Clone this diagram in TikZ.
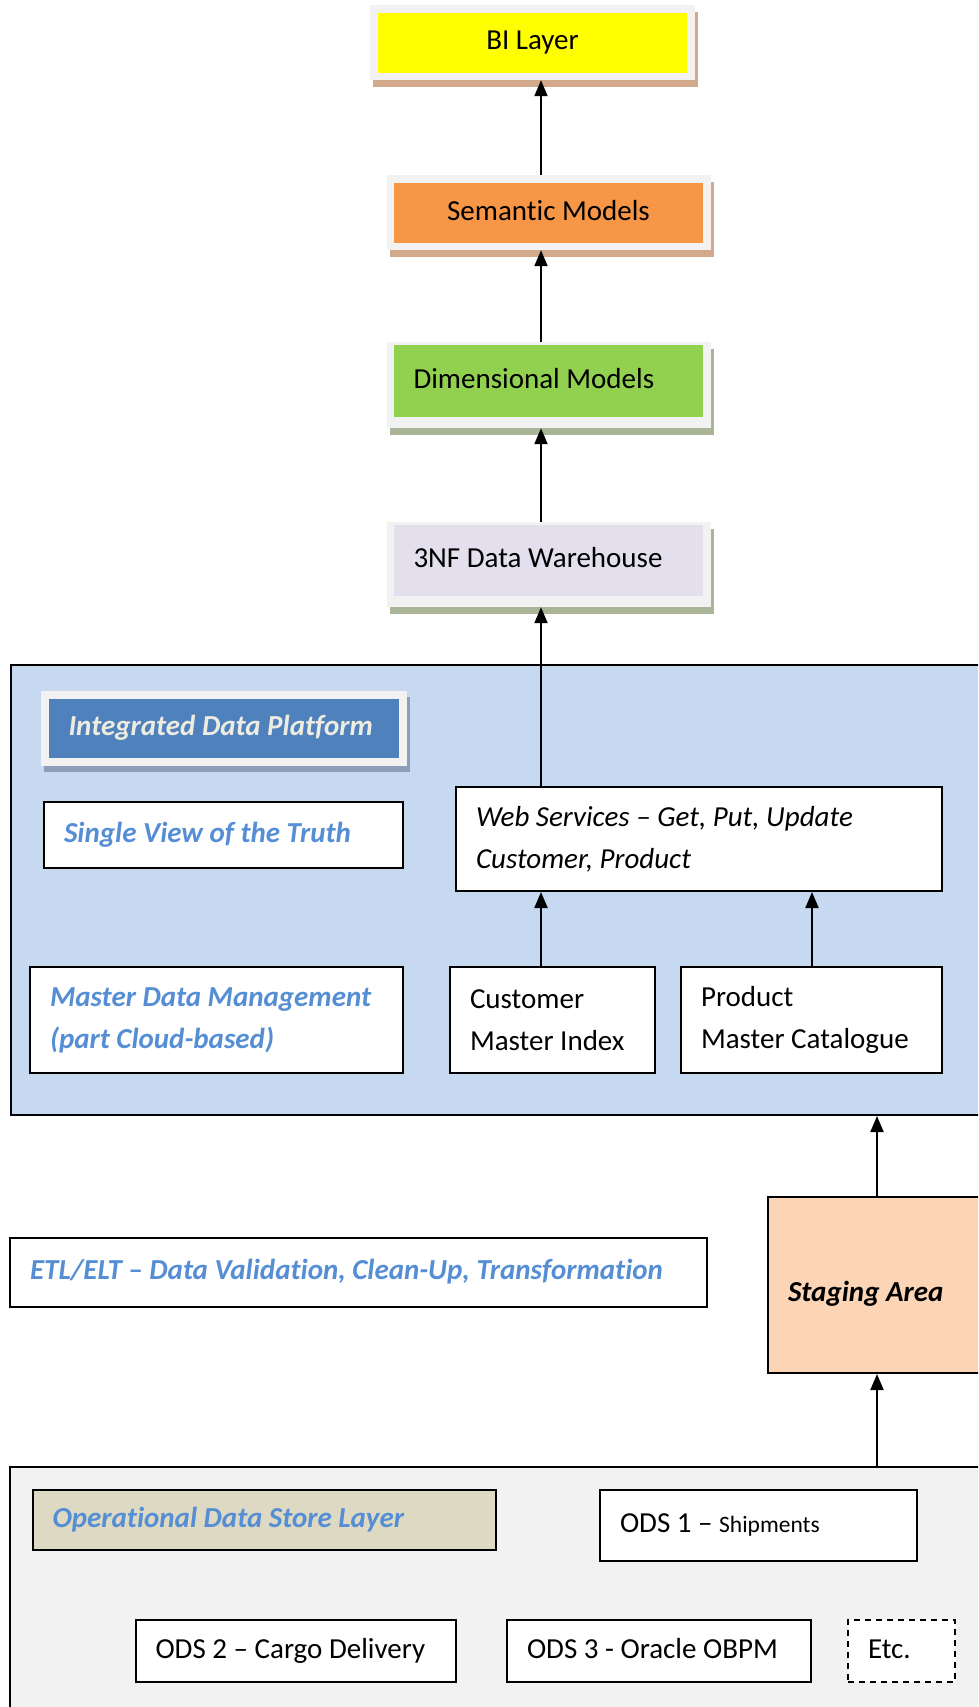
\documentclass[tikz,border=0pt]{standalone}
\usepackage{fontspec}
\setmainfont{Carlito}[Ligatures=NoCommon]
\usetikzlibrary{arrows.meta,shadows}
\definecolor{biyellow}{HTML}{FFFF00}
\definecolor{semorange}{HTML}{F79646}
\definecolor{dimgreen}{HTML}{92D050}
\definecolor{nflav}{HTML}{E4DFEC}
\definecolor{framegray}{HTML}{F2F2F2}
\definecolor{shbrown}{HTML}{D2A98A}
\definecolor{shgreen}{HTML}{A9B596}
\definecolor{shblue}{HTML}{8D9DBA}
\definecolor{idpfill}{HTML}{C6D9F1}
\definecolor{idplabel}{HTML}{4F81BD}
\definecolor{idptext}{HTML}{EEECE1}
\definecolor{bluetext}{HTML}{558ED5}
\definecolor{stagefill}{HTML}{FBD5B5}
\definecolor{odsfill}{HTML}{F2F2F2}
\definecolor{odslabel}{HTML}{DDD9C3}
\tikzset{
  mainfont/.style={font=\fontsize{29}{42}\selectfont},
  frame/.style={fill=framegray, draw=none, inner sep=0pt},
  inbox/.style={draw=none, inner sep=0pt, mainfont, text height=21pt, text depth=7pt},
  region/.style={draw=black, line width=2pt, inner sep=0pt},
  wbox/.style={draw=black, line width=2pt, fill=white, inner ysep=0pt, inner xsep=20pt, align=flush left, mainfont},
  oneline/.style={text height=21pt, text depth=7pt},
  bluelbl/.style={text=bluetext, font=\fontsize{29}{42}\selectfont\bfseries\itshape},
  arr/.style={line width=2pt, -{Triangle[length=16pt,width=13pt]}},
}
\begin{document}
\begin{tikzpicture}[x=1pt,y=-1pt]
\useasboundingbox (0,0) rectangle (978,1707);
\clip (0,0) rectangle (978,1707);
\fill[white] (0,0) rectangle (978,1707);

% column coordinates for connectors
\coordinate (colA) at (541,0);
\coordinate (colB) at (812,0);
\coordinate (colC) at (877,0);

% ---------- top stack ----------
\node[frame, minimum width=325pt, minimum height=75pt,
      drop shadow={shadow xshift=3pt, shadow yshift=-7pt, fill=shbrown, opacity=1}] (bi) at (532.5,42.5) {};
\node[inbox, fill=biyellow, minimum width=309pt, minimum height=60pt] (bit) at (532.5,43) {BI Layer};

\node[frame, minimum width=324pt, minimum height=75pt,
      drop shadow={shadow xshift=3pt, shadow yshift=-7pt, fill=shbrown, opacity=1}] (sem) at (549,212.5) {};
\node[inbox, fill=semorange, minimum width=309pt, minimum height=60pt] (semt) at (548.5,213) {Semantic Models};

\node[frame, minimum width=324pt, minimum height=86pt,
      drop shadow={shadow xshift=3pt, shadow yshift=-7pt, fill=shgreen, opacity=1}] (dim) at (549,385) {};
\node[inbox, fill=dimgreen, minimum width=309pt, minimum height=72pt, text width=270pt, inner xsep=19.5pt, align=flush left, yshift=4pt] (dimt) at (548.5,385) {Dimensional Models};

\node[frame, minimum width=324pt, minimum height=85pt,
      drop shadow={shadow xshift=3pt, shadow yshift=-7pt, fill=shgreen, opacity=1}] (nf) at (549,564.5) {};
\node[inbox, fill=nflav, minimum width=309pt, minimum height=71pt, text width=270pt, inner xsep=19.5pt, align=flush left, yshift=4pt] (nft) at (548.5,564.5) {3NF Data Warehouse};

% ---------- integrated data platform ----------
\node[region, fill=idpfill, anchor=north west, minimum width=995pt, minimum height=450pt] (idp) at (10,664) {};

\node[frame, minimum width=366pt, minimum height=75pt,
      drop shadow={shadow xshift=3pt, shadow yshift=-6pt, fill=shblue, opacity=1}] (idpl) at (224,728.5) {};
\node[inbox, fill=idplabel, minimum width=350pt, minimum height=59pt, text width=311pt, inner xsep=19.5pt, align=flush left,
      text=idptext, font=\fontsize{29}{42}\selectfont\bfseries\itshape] (idplt) at (224,728.5) {Integrated Data Platform};

\node[wbox, bluelbl, oneline, minimum height=66pt, text width=319pt] (svt) at (223.5,835) {Single View of the Truth};

\node[wbox, minimum height=104pt, text width=446pt, font=\fontsize{29}{42}\selectfont\itshape] (ws) at (699,839) {Web Services -- Get, Put, Update\\Customer, Product};

\node[wbox, bluelbl, minimum height=106pt, text width=333pt] (mdm) at (216.5,1020) {Master Data Management\\(part Cloud-based)};

\node[wbox, minimum height=106pt, text width=165pt] (cmi) at (552.5,1020) {Customer\\Master Index};
\node[wbox, minimum height=106pt, text width=221pt] (pmc) at (811.5,1020) {Product\\Master Catalogue};

% ---------- ETL and staging ----------
\node[wbox, bluelbl, oneline, minimum height=69pt, text width=657pt] (etl) at (358.5,1272.5) {ETL/ELT -- Data Validation, Clean-Up, Transformation};

\node[wbox, fill=stagefill, anchor=north west, minimum height=176pt, text width=195pt,
      font=\fontsize{29}{42}\selectfont\bfseries\itshape, oneline] (stg) at (767,1196) {\raisebox{-9pt}{Staging Area}};

% ---------- ODS layer ----------
\node[region, fill=odsfill, anchor=north west, minimum width=995pt, minimum height=260pt] (ods) at (9,1466) {};

\node[wbox, bluelbl, oneline, fill=odslabel, minimum height=60pt, text width=423pt] (odsl) at (264,1520) {Operational Data Store Layer};

\node[wbox, oneline, minimum height=71pt, text width=277pt] (ods1) at (758.5,1525.5) {ODS 1 -- {\fontsize{23.5}{30}\selectfont Shipments}};
\node[wbox, oneline, minimum height=62pt, text width=280pt] (ods2) at (295.5,1651) {ODS 2 -- Cargo Delivery};
\node[wbox, oneline, minimum height=62pt, text width=264pt] (ods3) at (659,1651) {ODS 3 - Oracle OBPM};
\node[wbox, oneline, dashed, dash pattern=on 6pt off 5pt, minimum height=62pt, text width=67pt] (etc) at (901.5,1651) {Etc.};

% ---------- connectors ----------
\draw[arr] (sem.north -| colA) -- (bi.south -| colA);
\draw[arr] (dim.north -| colA) -- (sem.south -| colA);
\draw[arr] (nf.north -| colA) -- (dim.south -| colA);
\draw[arr] (ws.north -| colA) -- (nf.south -| colA);
\draw[arr] (cmi.north -| colA) -- (ws.south -| colA);
\draw[arr] (pmc.north -| colB) -- (ws.south -| colB);
\draw[arr] (stg.north -| colC) -- (idp.south -| colC);
\draw[arr] (ods.north -| colC) -- (stg.south -| colC);
\end{tikzpicture}
\end{document}
